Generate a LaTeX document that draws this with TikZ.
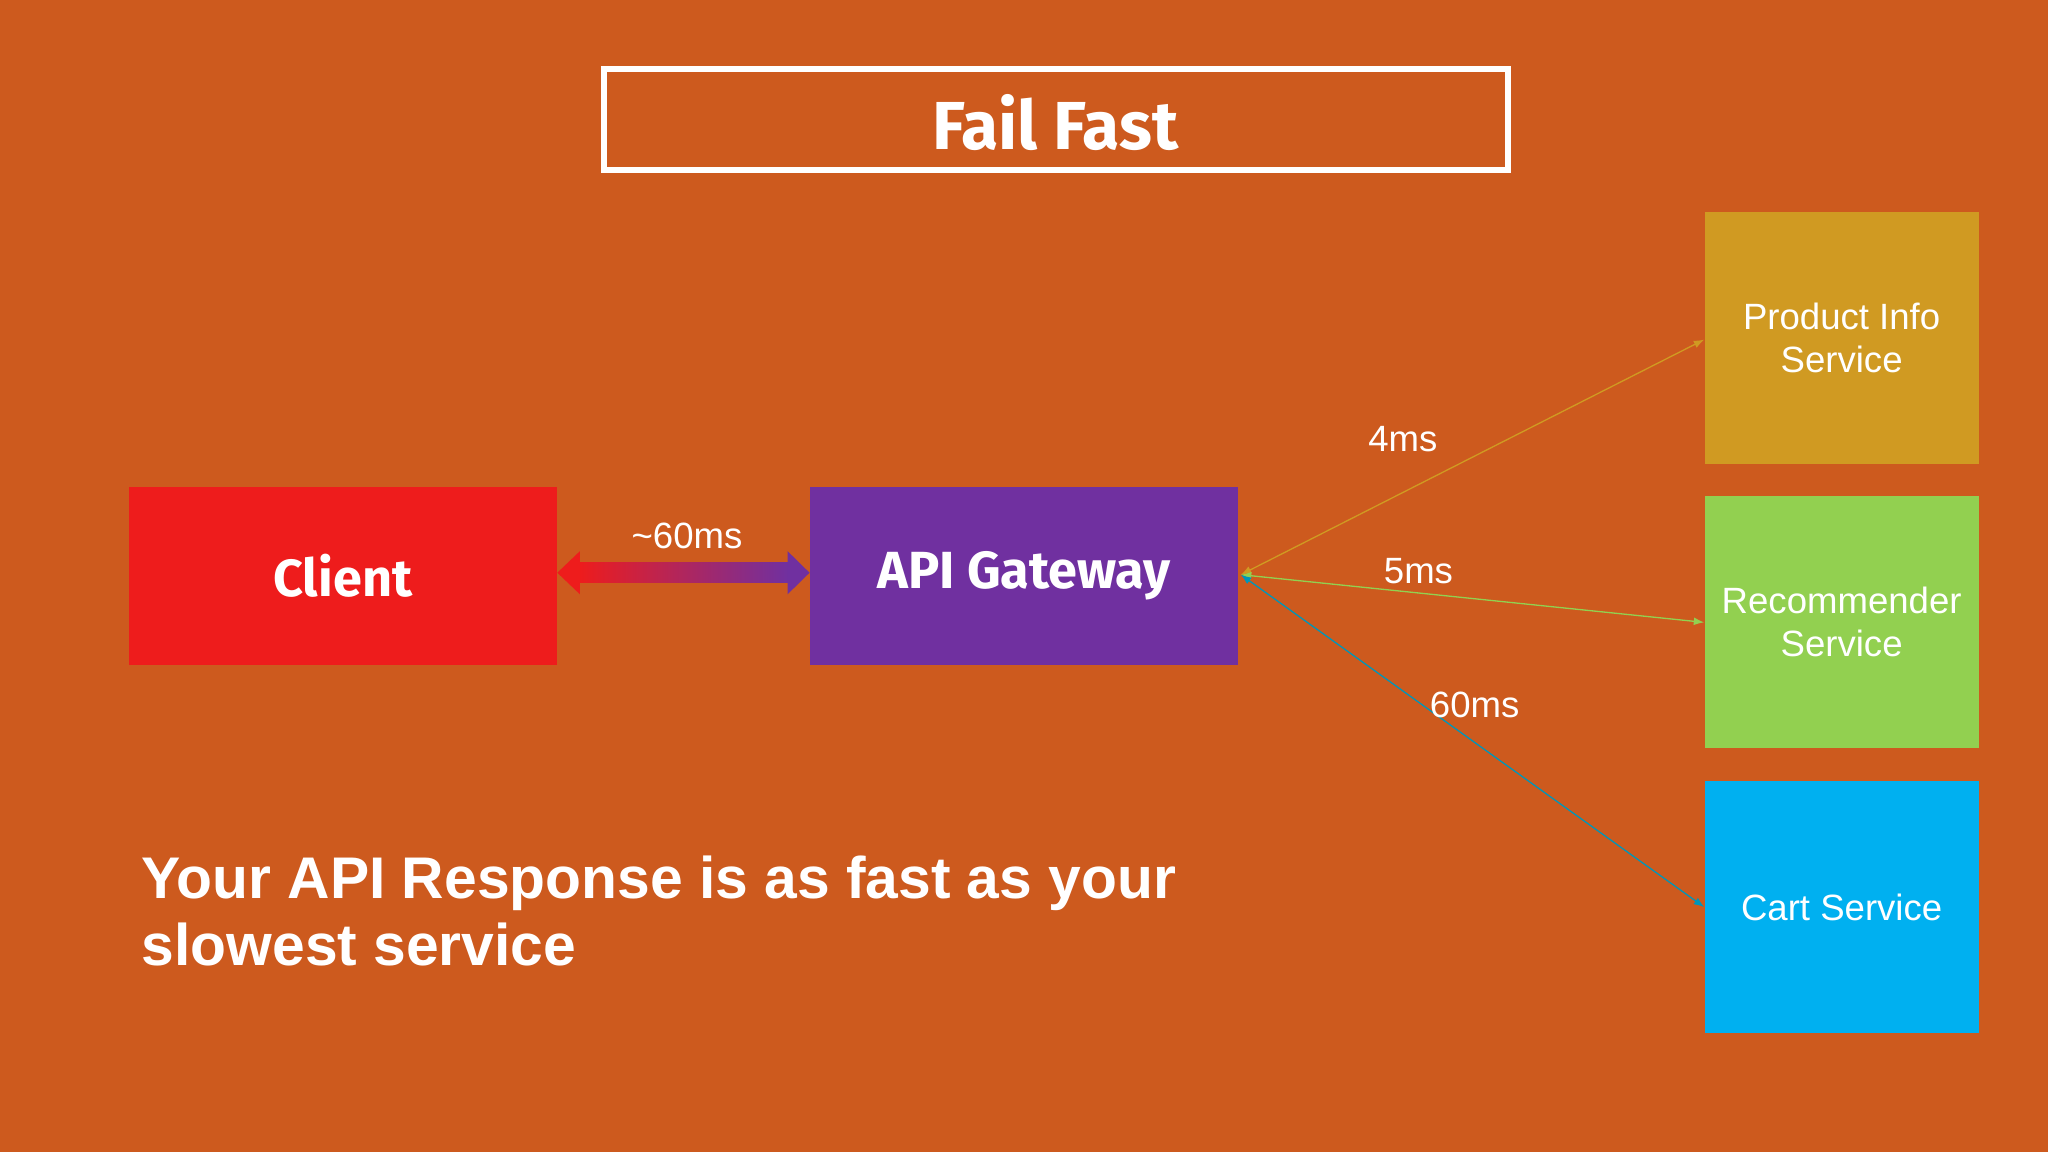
\documentclass[tikz,border=0pt]{standalone}
\usepackage{fontspec}
\setmainfont{Liberation Sans}
\newfontfamily\titlefont{Fira Sans}
\usetikzlibrary{arrows.meta}
\definecolor{bg}{HTML}{CD5A1E}
\definecolor{cred}{HTML}{EE1C1C}
\definecolor{cpur}{HTML}{7030A0}
\definecolor{cprod}{HTML}{D09A22}
\definecolor{crec}{HTML}{92D050}
\definecolor{ccart}{HTML}{00B0F0}
\tikzset{
 box/.style={minimum width=328pt,minimum height=136pt,inner sep=0pt,text=white},
 svc/.style={minimum width=210pt,minimum height=193pt,inner sep=0pt,text=white,align=center,font=\fontsize{28}{33}\selectfont},
 lbl/.style={text=white,font=\fontsize{28}{32}\selectfont},
 thin/.style={line width=1pt,{Latex[length=8pt,width=6pt]}-{Latex[length=8pt,width=6pt]}}
}
\begin{document}
\begin{tikzpicture}[x=1pt,y=-1pt]
\fill[bg] (0,0) rectangle (1568,882);
\useasboundingbox (0,0) rectangle (1568,882);
\node[draw=white,line width=5pt,minimum width=692pt,minimum height=77pt,inner sep=0pt] (title) at (808.5,91.5) {};
\node[text=white,font=\titlefont\bfseries\fontsize{52}{60}\selectfont] at (808,94) {Fail Fast};
\node[box,fill=cred,font=\titlefont\bfseries\fontsize{40}{46}\selectfont] (client) at (262.5,441) {Client};
\node[box,fill=cpur,font=\titlefont\bfseries\fontsize{40}{46}\selectfont] (gw) at (784,441) {API Gateway};
\node[svc,fill=cprod] (prod) at (1410,258.5) {Product Info\\Service};
\node[svc,fill=crec] (rec) at (1410,476.5) {Recommender\\Service};
\node[svc,fill=ccart] (cart) at (1410,694.5) {Cart Service};
% gradient double arrow
\shade[left color=cred,right color=cpur] (443,431) rectangle (604,446);
\fill[cred] (client.east|-0,438.5) -- (444,422) -- (444,455) -- cycle;
\fill[cpur] (gw.west|-0,438.5) -- (603,422) -- (603,455) -- cycle;
\node[lbl] at (526,410) {\textasciitilde60ms};
\coordinate (g) at (950,440);
\draw[thin,draw=cprod,fill=cprod] (g) -- (prod.west|-0,260);
\draw[thin,draw=crec,fill=crec] (g) -- (rec.west);
\draw[thin,draw=ccart!70!black!80!cyan,fill=ccart] (g) -- (cart.west);
\node[lbl] at (1074,336) {4ms};
\node[lbl] at (1086,437) {5ms};
\node[lbl] at (1129,540) {60ms};
\node[text=white,anchor=north west,align=left,font=\bfseries\fontsize{45}{51}\selectfont] (msg) at (105,652) {Your API Response is as fast as your\\slowest service};
\end{tikzpicture}
\end{document}
